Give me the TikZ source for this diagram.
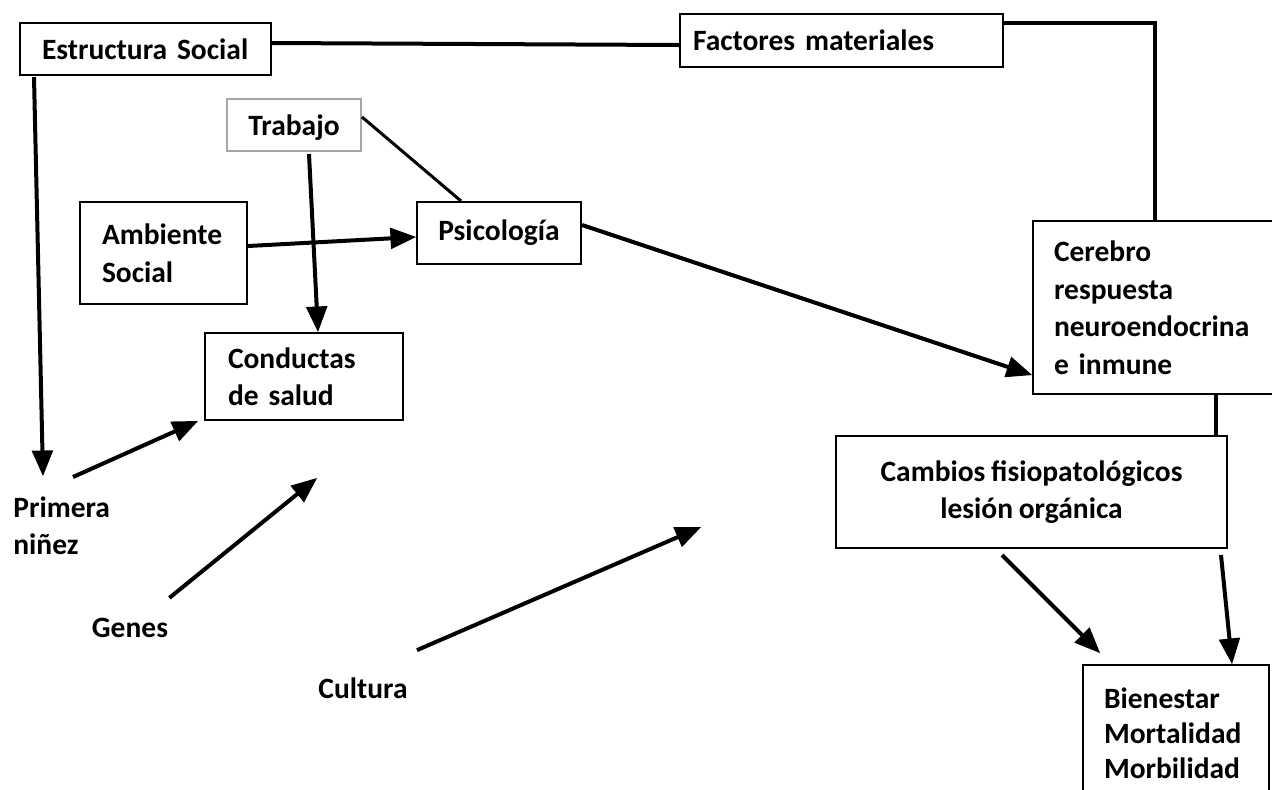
\documentclass[tikz,border=0pt]{standalone}
\usepackage{fontspec}
\setmainfont{Carlito}[WordSpace=0.85]
\usetikzlibrary{arrows,calc}

\tikzset{
  caja/.style={draw,line width=1pt,align=left,inner sep=0pt,anchor=north west},
  rotulo/.style={align=left,inner sep=0pt},
  flecha/.style={->,line width=2pt},
  linea/.style={line width=2pt}
}

\begin{document}
\begin{tikzpicture}[>=triangle 45,x=0.5pt,y=-0.5pt,font=\bfseries\fontsize{14.75}{18.75}\selectfont]
			\clip (0,0) rectangle (1272,789);
			\useasboundingbox (0,0) rectangle (1272,789);
			% Cajas de arriba
			\node[caja,minimum width=125.5pt,minimum height=26pt,text width=103.5pt] (estructura) at (19,22) {Estructura Social};
			\node[caja,minimum width=161.5pt,minimum height=26.5pt,text width=148.5pt] (factores) at (679,13) {Factores materiales};
			%Cajas del centro
			\node[caja,draw=black!35,align=center,minimum width=67pt,minimum height=26pt,text depth=0pt] (trabajo) at (226,98) {Trabajo};
			\node[caja,minimum width=83.5pt,minimum height=51pt,text width=61.5pt] (ambiente) at (79,201) {Ambiente\\Social};
			\node[caja,align=center,minimum width=82pt,minimum height=31pt] (psicologia) at (416,201) {Psicología};
			\node[caja,minimum width=99pt,minimum height=43.5pt,text width=76pt] (conductas) at (204,332) {Conductas\\de salud};
			% Cajas de la derecha
			\node[caja,minimum width=124pt,minimum height=86.5pt,text width=103pt] (cerebro) at (1032,220) {Cerebro\\respuesta\\neuroendocrina\\e inmune};
			\node[caja,align=center,minimum width=195.5pt,minimum height=56pt] (cambios) at (835,435) {Cambios fisiopatológicos\\lesión orgánica};
			\node[caja,minimum width=93pt,minimum height=68pt,text width=72pt,font=\bfseries\fontsize{14.75}{17.5}\selectfont] (bienestar) at (1082,664) {Bienestar\\Mortalidad\\Morbilidad};
			% Rotulos sueltos
			\node[rotulo,anchor=north west] (primera) at (13,496) {Primera\\niñez};
			\node[rotulo] (genes) at (130,628) {Genes};
			\node[rotulo] (cultura) at (363,688) {Cultura};
			\coordinate (genesfin) at (317,478);
			\coordinate (culturafin) at (701,527);
			% Conexiones
			\draw[linea] ($(estructura.east)+(0,-6)$) -- ($(factores.west)+(0,4.5)$);
			\draw[linea] ($(factores.north east)+(0,10)$) -| ($(cerebro.north west)+(123,0)$);
			\draw[flecha] ($(estructura.south west)+(15,1)$) -- ($(primera.north west)+(30,-20)$);
			\draw[flecha] ($(primera.north west)+(60,-19)$) -- ($(conductas.south west)+(-6,0)$);
			\draw[flecha] ($(trabajo.south west)+(83,2)$) -- ($(conductas.north west)+(114,0)$);
			\draw[line width=1.5pt] ($(trabajo.north east)+(0,19)$) -- ($(psicologia.north west)+(45,0)$);
			\draw[flecha] ($(ambiente.north east)+(0,45)$) -- ($(psicologia.north west)+(0,36)$);
			\draw[flecha] ($(psicologia.north east)+(0,24)$) -- ($(cerebro.north west)+(0,155)$);
			\draw[linea] ($(cerebro.south west)+(184,0)$) coordinate (bajada) -- (bajada |- cambios.north);
			\draw[flecha] ($(cambios.south west)+(167,6)$) -- ($(bienestar.north west)+(18,-11)$);
			\draw[flecha] ($(cambios.south east)+(-7,6)$) -- ($(bienestar.north east)+(-38,0)$);
			\draw[flecha] ($(genes.north east)+(1,-20)$) -- (genesfin);
			\draw[flecha] ($(cultura.north east)+(9,-27)$) -- (culturafin);
\end{tikzpicture}
\end{document}
